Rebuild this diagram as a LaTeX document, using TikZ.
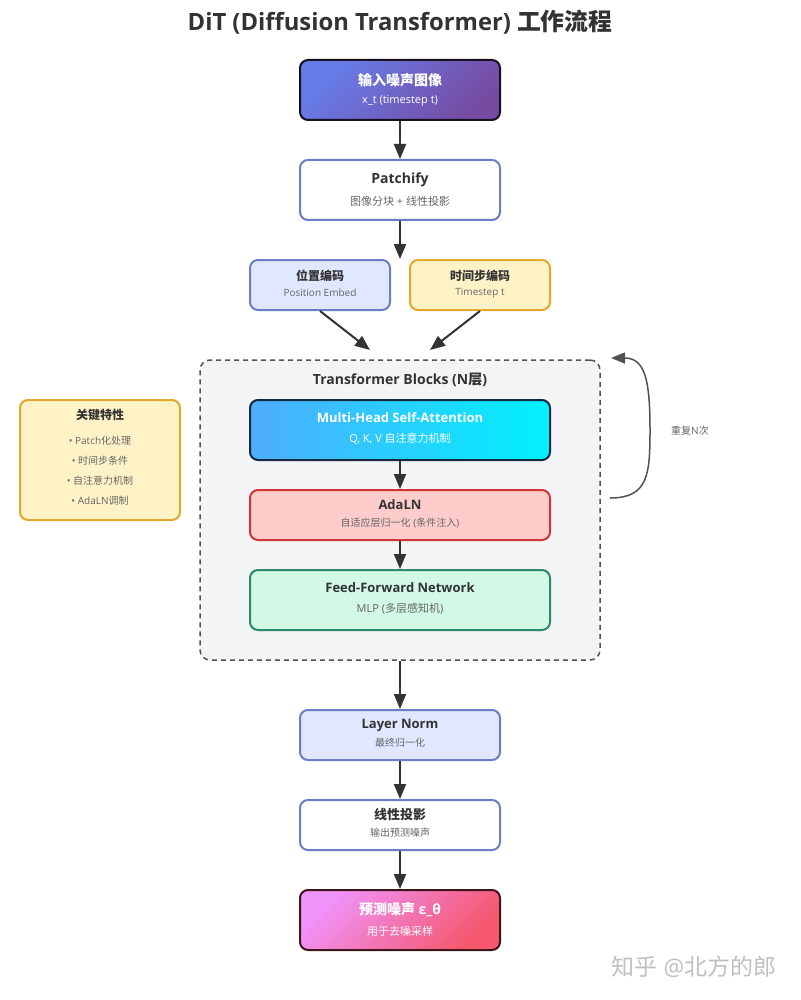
\documentclass[tikz,border=0pt]{standalone}
\usepackage{fontspec}
\setmainfont{Open Sans}
\newfontfamily\cjk{Noto Sans CJK SC}
\usetikzlibrary{arrows.meta,calc}
\newcommand{\zh}[1]{{\cjk #1}}
\definecolor{txt}{HTML}{333333}
\definecolor{subg}{HTML}{666666}
\definecolor{bblue}{HTML}{6C7DC4}
\definecolor{lblue}{HTML}{E0E7FF}
\definecolor{lyel}{HTML}{FEF3C7}
\definecolor{byel}{HTML}{E3A92C}
\definecolor{lred}{HTML}{FFCCCC}
\definecolor{bred}{HTML}{D03434}
\definecolor{lgrn}{HTML}{D2F8E6}
\definecolor{bgrn}{HTML}{2A8A6A}
\definecolor{tbfill}{HTML}{F3F4F6}
\definecolor{g1a}{HTML}{667EEA}
\definecolor{g1b}{HTML}{764BA2}
\definecolor{g2a}{HTML}{4FACFE}
\definecolor{g2b}{HTML}{00F2FE}
\definecolor{g3a}{HTML}{F093FB}
\definecolor{g3b}{HTML}{F5576C}
\tikzset{
  box/.style={rounded corners=8pt, line width=2pt, inner sep=0pt},
  ttl/.style={font=\bfseries\fontsize{13}{15}\selectfont, text=txt, inner sep=0pt},
  ttlL/.style={ttl, font=\bfseries\fontsize{14}{16}\selectfont},
  ttlS/.style={ttl, font=\bfseries\fontsize{12}{14}\selectfont},
  sub/.style={font=\fontsize{10}{12}\selectfont, text=subg, inner sep=0pt},
  subL/.style={sub, font=\fontsize{11}{13}\selectfont},
  arr/.style={draw=txt, line width=2pt, -{Triangle[length=15pt,width=12pt]}},
}
\begin{document}
\begin{tikzpicture}[x=1pt,y=-1pt]
\path[use as bounding box, fill=white] (0,0) rectangle (800,1000);
% title
\node[font=\bfseries\fontsize{23.8}{28}\selectfont, text=txt] (title) at (400,22) {DiT (Diffusion Transformer) \zh{工作流程}};

% input
\node[box, draw=black!80!g1b, top color=g1a, bottom color=g1b, shading angle=45, minimum width=200pt, minimum height=60pt] (in) at (400,90) {};
\node[ttlL, text=white] at (400,80) {\zh{输入噪声图像}};
\node[subL, text=white] at (400,101) {x\_t (timestep t)};

% patchify
\node[box, draw=bblue, fill=white, minimum width=200pt, minimum height=60pt] (pat) at (400,190) {};
\node[ttlL] at (400,180) {Patchify};
\node[subL] at (400,201) {\zh{图像分块} + \zh{线性投影}};

% pos / time
\node[box, draw=bblue, fill=lblue, minimum width=140pt, minimum height=50pt] (pos) at (320,285) {};
\node[ttlS] at (320,276) {\zh{位置编码}};
\node[sub] at (320,293) {Position Embed};
\node[box, draw=byel, fill=lyel, minimum width=140pt, minimum height=50pt] (tim) at (480,285) {};
\node[ttlS] at (480,276) {\zh{时间步编码}};
\node[sub] at (480,293) {Timestep t};

% transformer block container
\node[rounded corners=10pt, draw=txt!85, line width=1.5pt, dash pattern=on 5pt off 4pt, fill=tbfill, minimum width=400pt, minimum height=300pt, inner sep=0pt] (tb) at (400,510) {};
\node[ttlL] at (400,380) {Transformer Blocks (N\zh{层})};

% MHSA
\node[box, draw=black!75!g2a, left color=g2a, right color=g2b, minimum width=300pt, minimum height=60pt] (att) at (400,430) {};
\node[ttl, text=white] at (400,418) {Multi-Head Self-Attention};
\node[subL, text=white] at (400,439) {Q, K, V \zh{自注意力机制}};

% AdaLN
\node[box, draw=bred, fill=lred, minimum width=300pt, minimum height=50pt] (ada) at (400,515) {};
\node[ttl] at (400,505) {AdaLN};
\node[sub] at (400,523) {\zh{自适应层归一化} (\zh{条件注入})};

% FFN
\node[box, draw=bgrn, fill=lgrn, minimum width=300pt, minimum height=60pt] (ffn) at (400,600) {};
\node[ttl] at (400,588) {Feed-Forward Network};
\node[subL] at (400,609) {MLP (\zh{多层感知机})};

% Layer norm
\node[box, draw=bblue, fill=lblue, minimum width=200pt, minimum height=50pt] (ln) at (400,735) {};
\node[ttl] at (400,725) {Layer Norm};
\node[sub] at (400,743) {\zh{最终归一化}};

% linear projection
\node[box, draw=bblue, fill=white, minimum width=200pt, minimum height=50pt] (lin) at (400,825) {};
\node[ttl] at (400,815) {\zh{线性投影}};
\node[sub] at (400,833) {\zh{输出预测噪声}};

% output
\node[box, draw=black!75!g3b, top color=g3a, bottom color=g3b, shading angle=45, minimum width=200pt, minimum height=60pt] (out) at (400,920) {};
\node[ttlL, text=white] at (400,910) {\zh{预测噪声} ε\_θ};
\node[subL, text=white] at (400,931) {\zh{用于去噪采样}};

% key features
\node[box, draw=byel, fill=lyel, minimum width=160pt, minimum height=120pt] (key) at (100,460) {};
\node[ttlS] at (100,415) {\zh{关键特性}};
\node[sub] at (100,441) {• Patch\zh{化处理}};
\node[sub] at (100,461) {• \zh{时间步条件}};
\node[sub] at (100,481) {• \zh{自注意力机制}};
\node[sub] at (100,501) {• AdaLN\zh{调制}};

% connectors
\coordinate (patend) at (400,259);
\coordinate (posend) at (370,350);
\coordinate (timend) at (430,350);
\coordinate (loopa) at (610,498);
\coordinate (loopb) at (611,358);
\draw[arr] (in.south) -- (pat.north);
\draw[arr] (pat.south) -- (patend);
\draw[arr] (pos.south) -- (posend);
\draw[arr] (tim.south) -- (timend);
\draw[arr] (att.south) -- (ada.north);
\draw[arr] (ada.south) -- (ffn.north);
\draw[arr] (tb.south) -- (ln.north);
\draw[arr] (ln.south) -- (lin.north);
\draw[arr] (lin.south) -- (out.north);
\draw[draw=txt!85, line width=1.5pt, -{Triangle[length=14pt,width=11pt]}] (loopa) .. controls (648,498) and (650,475) .. (650,430) .. controls (650,380) and (645,358) .. (loopb);
\node[sub] (rep) at (690,431) {\zh{重复}N\zh{次}};

% watermark
\node[font=\fontsize{23}{26}\selectfont, text=black!25] (wm) at (694,967) {\zh{知乎} @\zh{北方的郎}};
\end{tikzpicture}
\end{document}
